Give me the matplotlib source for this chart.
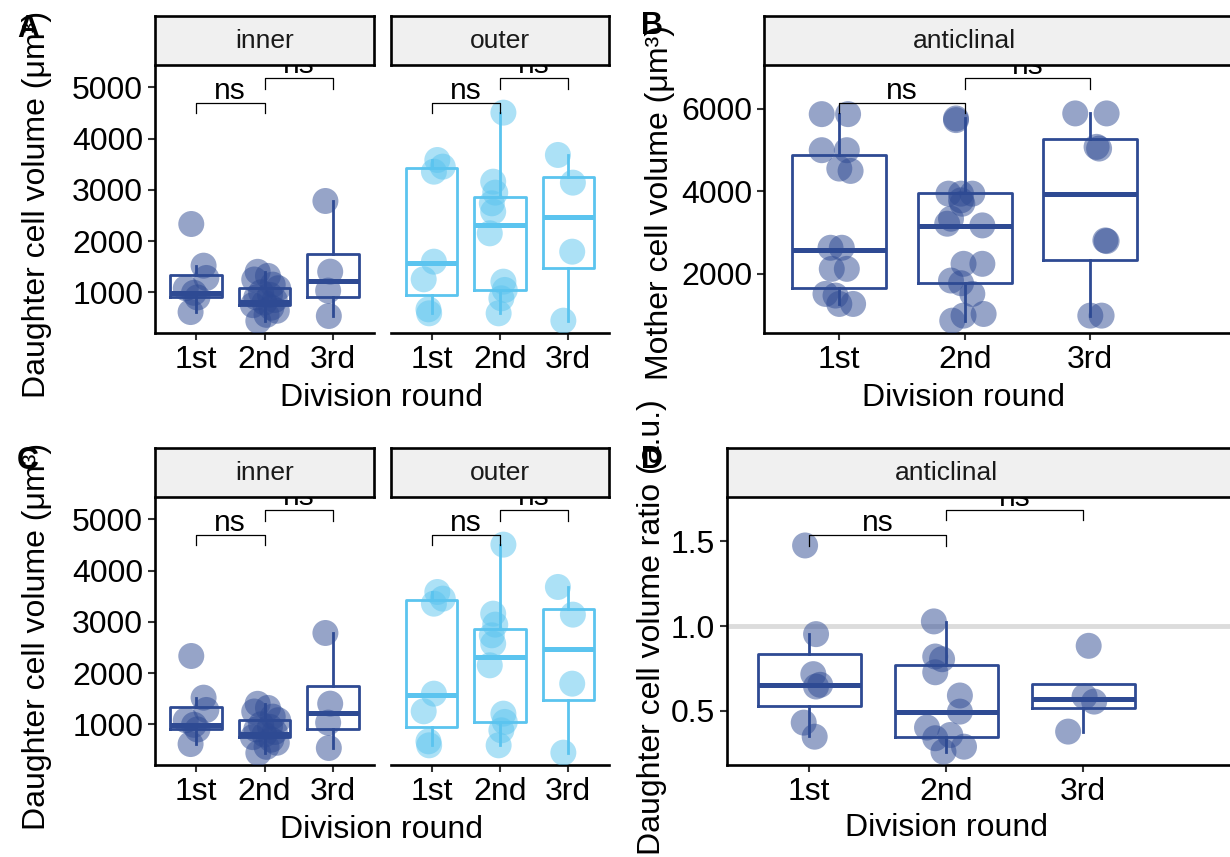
import matplotlib
matplotlib.use("Agg")
import matplotlib.pyplot as plt
import matplotlib.transforms as mtrans

plt.rcParams['font.family'] = ['Liberation Sans', 'DejaVu Sans']

# --- data ---
rounds = ["1st", "2nd", "3rd"]

# daughter cell volume, inner layer (panels A and C)
in_r1 = [2333, 1520, 1280, 1080, 990, 900, 615]
in_r2 = [1400, 1320, 1250, 1150, 1080, 1000, 950, 900, 850, 800, 750, 700, 640, 560, 440]
in_r3 = [2782, 1403, 1033, 538]
in_jit = [[-0.07, 0.11, 0.15, -0.15, -0.03, 0.02, -0.08],
          [-0.1, 0.05, -0.15, 0.12, 0.2, -0.05, 0.08, -0.12, 0.15, 0.0, -0.17, 0.1, 0.18, 0.03, -0.09],
          [-0.11, -0.04, -0.07, -0.06]]
# box stats: whislo, q1, med, q3, whishi
in_box = [[615, 914, 990, 1337, 1520],
          [440, 752, 820, 1088, 1400],
          [538, 909, 1218, 1748, 2782]]

# daughter cell volume, outer layer
out_r1 = [3582, 3452, 3354, 1598, 1254, 668, 590]
out_r2 = [4506, 3159, 2945, 2737, 2574, 2151, 1208, 1046, 883, 590]
out_r3 = [3680, 3140, 1793, 447]
out_jit = [[0.08, 0.16, 0.03, 0.03, -0.12, -0.05, -0.04],
           [0.05, -0.1, -0.07, -0.12, -0.1, -0.15, 0.05, 0.07, 0.02, -0.02],
           [-0.15, 0.07, 0.06, -0.07]]
out_box = [[590, 950, 1580, 3430, 3582],
           [590, 1046, 2314, 2867, 4506],
           [447, 1468, 2476, 3257, 3680]]

# mother cell volume, anticlinal (panel B)
b_r1 = [5870, 5870, 4996, 4996, 4551, 4494, 2632, 2632, 2121, 2121, 1514, 1474, 1271, 1271]
b_r2 = [5765, 5725, 3943, 3943, 3943, 3781, 3700, 3336, 3215, 3174, 2243, 2243, 1838, 1773, 1514, 1028, 988, 866]
b_r3 = [5887, 5887, 5077, 5036, 2810, 2794, 988, 988]
b_jit = [[-0.14, 0.07, -0.14, 0.06, 0.0, 0.09, -0.07, 0.02, -0.06, 0.06, -0.11, -0.03, 0.0, 0.11],
         [-0.07, -0.07, -0.13, -0.03, 0.06, -0.03, -0.02, -0.11, -0.14, 0.14, -0.01, 0.14, -0.11, -0.03, 0.06, 0.15, -0.01, -0.1],
         [-0.12, 0.13, 0.05, 0.07, 0.12, 0.13, 0.0, 0.09]]
b_box = [[1271, 1652, 2567, 4874, 5870],
         [866, 1781, 3158, 3968, 5765],
         [988, 2340, 3927, 5263, 5887]]

# daughter cell volume ratio, anticlinal (panel D)
d_r1 = [1.476, 0.953, 0.717, 0.654, 0.644, 0.431, 0.348]
d_r2 = [1.028, 0.821, 0.805, 0.728, 0.591, 0.496, 0.402, 0.339, 0.358, 0.289, 0.26]
d_r3 = [0.884, 0.585, 0.555, 0.378]
d_jit = [[-0.03, 0.05, 0.03, 0.08, 0.05, -0.04, 0.04],
         [-0.09, -0.08, -0.03, -0.08, 0.1, 0.1, -0.14, -0.08, 0.03, 0.13, -0.02],
         [0.04, 0.01, 0.08, -0.11]]
d_box = [[0.352, 0.531, 0.654, 0.837, 0.953],
         [0.256, 0.344, 0.492, 0.768, 1.024],
         [0.378, 0.516, 0.569, 0.657, 0.657]]

# significance brackets: (bar height, tip bottom) for 1st-2nd and 2nd-3rd
brk_vol = [(4688, 4493), (5189, 4967)]
brk_mother = [(6146, 5887), (6753, 6478)]
brk_ratio = [(1.539, 1.474), (1.687, 1.624)]

DARK = "#2e4a93"
LIGHT = "#5bc4ef"
W, H = 1230, 857
FS = 23

fig = plt.figure(figsize=(W / 100, H / 100), dpi=100)


def rect(x0, y0, x1, y1):
    return [x0 / W, 1 - y1 / H, (x1 - x0) / W, (y1 - y0) / H]


def panel(box, strip_box, label, xlim, ylim, yticks, show_y=True):
    ax = fig.add_axes(rect(*box))
    for s in ["top", "right"]:
        ax.spines[s].set_visible(False)
    ax.spines["bottom"].set_linewidth(1.9)
    ax.spines["left"].set_linewidth(1.9)
    ax.tick_params(axis="both", labelsize=FS, length=5, width=1.5, color="#333333", pad=3.5)
    if show_y:
        ax.set_yticks(yticks)
    else:
        ax.spines["left"].set_visible(False)
        ax.set_yticks([])
    st = fig.add_axes(rect(*strip_box))
    st.set_xlim(*xlim)
    st.set_facecolor("#f0f0f0")
    st.set_xticks([])
    st.set_yticks([])
    for sp in st.spines.values():
        sp.set_linewidth(1.9)
        sp.set_color("black")
    tr = mtrans.blended_transform_factory(st.transData, st.transAxes)
    st.text(2, 0.5, label, transform=tr, ha="center", va="center", fontsize=19, color="#1a1a1a")
    return ax


def finish(ax, xlim, ylim):
    ax.set_xlim(*xlim)
    ax.set_ylim(*ylim)
    ax.set_xticks([1, 2, 3])
    ax.set_xticklabels(rounds)


def draw_group(ax, values, jits, boxes, color):
    stats = []
    for b in boxes:
        stats.append(dict(whislo=b[0], q1=b[1], med=b[2], q3=b[3], whishi=b[4], fliers=[]))
    lw = 2.0
    ax.bxp(stats, positions=[1, 2, 3], widths=0.75, showfliers=False, showcaps=False,
           manage_ticks=False,
           boxprops=dict(color=color, lw=lw), whiskerprops=dict(color=color, lw=lw),
           medianprops=dict(color=color, lw=3.6, solid_capstyle="butt"))
    for i, (vals, jit) in enumerate(zip(values, jits)):
        xs = [i + 1 + j for j in jit]
        ax.scatter(xs, vals, s=350, color=color, alpha=0.5, edgecolors="none", zorder=3)


def brackets(ax, brk):
    for (x0, x1), (top, tip) in zip([(1, 2), (2, 3)], brk):
        ax.plot([x0, x0, x1, x1], [tip, top, top, tip], color="black", lw=0.9, zorder=4)
        ax.annotate("ns", xy=((x0 + x1) / 2, top), xytext=(0, 3), textcoords="offset points",
                    ha="center", va="baseline", fontsize=21.5, annotation_clip=False, clip_on=True)


vol_ylim = (206, 5416)
vol_ticks = [1000, 2000, 3000, 4000, 5000]

# rows A and C are the same plot
for dy, tag in [(0, "A"), (432, "C")]:
    a_in = panel((155, 66 + dy, 374, 333 + dy), (155, 16 + dy, 374, 65 + dy), "inner",
                 (0.4, 3.6), vol_ylim, vol_ticks)
    draw_group(a_in, [in_r1, in_r2, in_r3], in_jit, in_box, DARK)
    brackets(a_in, brk_vol)
    finish(a_in, (0.4, 3.6), vol_ylim)
    a_out = panel((391, 66 + dy, 609, 333 + dy), (391, 16 + dy, 609, 65 + dy), "outer",
                  (0.4, 3.6), vol_ylim, vol_ticks, show_y=False)
    draw_group(a_out, [out_r1, out_r2, out_r3], out_jit, out_box, LIGHT)
    brackets(a_out, brk_vol)
    finish(a_out, (0.4, 3.6), vol_ylim)
    fig.text(382 / W, 1 - (398 + dy) / H, "Division round", ha="center", va="center", fontsize=FS)
    fig.text(37 / W, 1 - (204 + dy) / H, "Daughter cell volume (μm³)", rotation=90,
             ha="center", va="center", fontsize=FS)
    fig.text(28 / W, 1 - (29 + dy) / H, tag, ha="center", va="center", fontsize=22, fontweight="bold")

# panel B
xl_b = (0.4, 0.4 + 476 / 125.5)
ax_b = panel((764, 66, 1240, 333), (764, 16, 1240, 65), "anticlinal",
             xl_b, (567, 7036), [2000, 4000, 6000])
draw_group(ax_b, [b_r1, b_r2, b_r3], b_jit, b_box, DARK)
brackets(ax_b, brk_mother)
finish(ax_b, xl_b, (567, 7036))
fig.text(964 / W, 1 - 398 / H, "Division round", ha="center", va="center", fontsize=FS)
fig.text(660 / W, 1 - 202 / H, "Mother cell volume (μm³)", rotation=90,
         ha="center", va="center", fontsize=FS)
fig.text(652 / W, 1 - 26 / H, "B", ha="center", va="center", fontsize=22, fontweight="bold")

# panel D
xl_d = (0.4, 0.4 + 513 / 137)
ax_d = panel((727, 498, 1240, 765), (727, 448, 1240, 497), "anticlinal",
             xl_d, (0.181, 1.756), [0.5, 1.0, 1.5])
ax_d.axhline(1.0, color="#dcdcdc", lw=3.5, zorder=0)
draw_group(ax_d, [d_r1, d_r2, d_r3], d_jit, d_box, DARK)
brackets(ax_d, brk_ratio)
finish(ax_d, xl_d, (0.181, 1.756))
ax_d.set_yticklabels(["0.5", "1.0", "1.5"])
fig.text(946 / W, 1 - 828 / H, "Division round", ha="center", va="center", fontsize=FS)
fig.text(652 / W, 1 - 627 / H, "Daughter cell volume ratio (a.u.)", rotation=90,
         ha="center", va="center", fontsize=FS)
fig.text(652 / W, 1 - 460 / H, "D", ha="center", va="center", fontsize=22, fontweight="bold")

fig.savefig("out.png", dpi=100)
